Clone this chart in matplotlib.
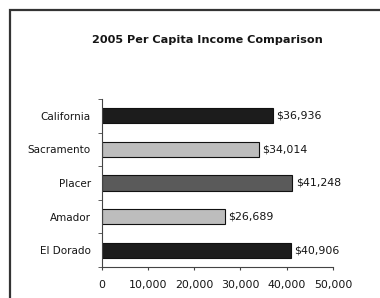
import matplotlib
matplotlib.use("Agg")
import matplotlib.pyplot as plt
from matplotlib.patches import Rectangle
import numpy as np

categories = ["California", "Sacramento", "Placer", "Amador", "El Dorado"]
values = [36936, 34014, 41248, 26689, 40906]
value_labels = ["$36,936", "$34,014", "$41,248", "$26,689", "$40,906"]
bar_colors = ["#1c1c1c", "#bdbdbd", "#5a5a5a", "#bdbdbd", "#1c1c1c"]
x_ticks = [0, 10000, 20000, 30000, 40000, 50000]
x_ticklabels = ["0", "10,000", "20,000", "30,000", "40,000", "50,000"]
title = "2005 Per Capita Income Comparison"

plt.rcParams['font.family'] = ['DejaVu Sans']

fig = plt.figure(figsize=(3.8, 2.98), dpi=100)
fig.patch.set_facecolor("white")

fig.patches.append(Rectangle((10/380, -0.1), 1.2, (298-10)/298 + 0.1,
                             transform=fig.transFigure, fill=False,
                             edgecolor="#333333", linewidth=1.6))

ax = fig.add_axes([0.268, 0.104, 0.608, 0.564])
y = np.arange(len(categories))[::-1]
ax.barh(y, values, height=0.45, color=bar_colors, edgecolor="#111111", linewidth=0.8)
for yi, v, lab in zip(y, values, value_labels):
    ax.text(v + 700, yi, lab, va="center", ha="left", fontsize=7.9,
            color="#151515")

ax.set_xlim(0, 50000)
ax.set_ylim(-0.5, len(categories) - 0.5)
ax.set_xticks(x_ticks)
ax.set_xticklabels(x_ticklabels, fontsize=7.9, color="#151515")
ax.set_yticks(y)
ax.set_yticklabels(categories, fontsize=7.5, color="#151515")
ax.tick_params(axis="y", length=0, pad=8)
ax.set_yticks(np.arange(-0.5, len(categories), 1.0), minor=True)
ax.tick_params(axis="y", which="minor", length=3, direction="out", color="#444444")
ax.tick_params(axis="x", length=2, direction="out", pad=7, color="#444444")
for s in ["top", "right"]:
    ax.spines[s].set_visible(False)
ax.spines["left"].set_color("#444444")
ax.spines["bottom"].set_color("#444444")

fig.text(0.545, 1 - 40/298, title, ha="center", va="center", fontsize=8.1,
         fontweight="bold", color="#151515")

fig.savefig("out.png", dpi=100)
